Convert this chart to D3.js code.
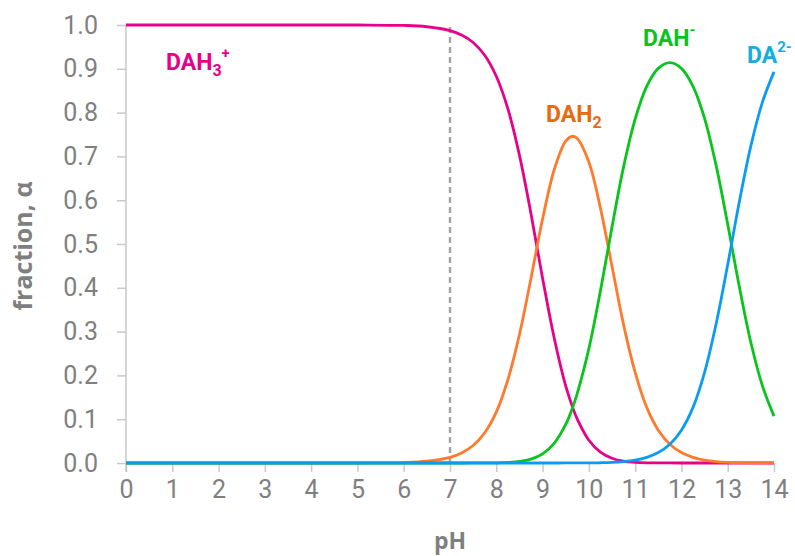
<!DOCTYPE html>
<html>
<head>
<meta charset="utf-8">
<script src="https://cdn.jsdelivr.net/npm/d3@7"></script>
<style>
  html, body { margin: 0; padding: 0; background: #fff; }
  svg { display: block; font-family: Roboto, "Liberation Sans", Arial, sans-serif; }
</style>
</head>
<body>
<svg id="chart" width="795" height="556"></svg>
<script>
// Dopamine speciation: fraction of each protonation state versus pH
const pH = [0, 1, 2, 3, 4, 5, 6, 6.5, 7, 7.25, 7.5, 7.75, 8, 8.25, 8.5, 8.75, 9, 9.25, 9.5, 9.65, 9.75,
            10, 10.25, 10.5, 10.75, 11, 11.25, 11.5, 11.75, 12, 12.25, 12.5, 12.75, 13, 13.25,
            13.5, 13.75, 14];
const DAH3 = [1, 1, 1, 1, 1, 1, 0.999, 0.996, 0.987, 0.977, 0.960, 0.931, 0.883, 0.809, 0.703, 0.569,
              0.422, 0.286, 0.176, 0.127, 0.100, 0.052, 0.025, 0.011, 0.004, 0.0016, 0.0005, 0.0002, 0.0001,
              0, 0, 0, 0, 0, 0, 0, 0, 0];
const DAH2 = [0, 0, 0, 0, 0, 0, 0.001, 0.004, 0.013, 0.023, 0.040, 0.069, 0.116, 0.190, 0.293, 0.422,
              0.557, 0.669, 0.735, 0.746, 0.741, 0.687, 0.582, 0.449, 0.316, 0.207, 0.127, 0.075, 0.043,
              0.024, 0.013, 0.0065, 0.0032, 0.0014, 0.0006, 0.0002, 0.0001, 0];
const DAH = [0, 0, 0, 0, 0, 0, 0, 0, 0, 0, 0.0001, 0.0002, 0.0004, 0.0013, 0.0035, 0.009, 0.021,
             0.045, 0.088, 0.127, 0.159, 0.261, 0.393, 0.539, 0.676, 0.785, 0.860, 0.901, 0.914, 0.901,
             0.860, 0.787, 0.679, 0.545, 0.403, 0.275, 0.176, 0.107];
const DA = [0, 0, 0, 0, 0, 0, 0, 0, 0, 0, 0, 0, 0, 0, 0, 0, 0, 0, 0.0001, 0.0001, 0.0001, 0.0002, 0.0006,
            0.0014, 0.0032, 0.0065, 0.013, 0.024, 0.043, 0.075, 0.127, 0.207, 0.318, 0.453,
            0.596, 0.724, 0.824, 0.893];
const xTicks = [0, 1, 2, 3, 4, 5, 6, 7, 8, 9, 10, 11, 12, 13, 14];
const yTicks = [0, 0.1, 0.2, 0.3, 0.4, 0.5, 0.6, 0.7, 0.8, 0.9, 1.0];
const markerPH = 7;

const series = [
  { values: DAH3, color: "#e8008a", labelColor: "#e8008a", base: "DAH", sub: "3", sup: "+", lx: 166, ly: 70 },
  { values: DAH2, color: "#ff7a2c", labelColor: "#ea6910", base: "DAH", sub: "2", sup: null, lx: 546, ly: 122 },
  { values: DAH,  color: "#08c41c", labelColor: "#08c41c", base: "DAH", sub: null, sup: "-", lx: 643, ly: 46 },
  { values: DA,   color: "#0a9cf4", labelColor: "#13ade4", base: "DA", sub: null, sup: "2-", lx: 747, ly: 63 }
];

const svg = d3.select("#chart");
const M = { left: 126, right: 774, top: 25, bottom: 463 };
const x = d3.scaleLinear().domain([0, 14]).range([M.left, M.right]);
const y = d3.scaleLinear().domain([0, 1]).range([M.bottom, M.top]);
const axisColor = "#c9c9c9";
const textColor = "#7f7f7f";
const titleFont = "'Open Sans', Roboto, Arial, sans-serif";
const labelFont = "Roboto, 'Liberation Sans', Arial, sans-serif";

// Y axis
const yAxis = svg.append("g").attr("transform", `translate(${M.left},0)`)
  .call(d3.axisLeft(y).tickValues(yTicks).tickSize(9).tickPadding(19).tickFormat(d3.format(".1f")));
// X axis (ticks only; the baseline is covered by the curves)
const xAxis = svg.append("g").attr("transform", `translate(0,${M.bottom})`)
  .call(d3.axisBottom(x).tickValues(xTicks).tickSize(9).tickPadding(8).tickFormat(d3.format("d")));
xAxis.select(".domain").remove();
yAxis.select(".domain").attr("d", `M0,${M.top}V${M.bottom + 9}`);
[xAxis, yAxis].forEach(g => {
  g.selectAll("line, path").attr("stroke", axisColor).attr("stroke-width", 1.5);
  g.selectAll("text").attr("fill", textColor).attr("font-size", 25)
    .attr("font-family", labelFont);
});

// Marker at pH 7
svg.append("line")
  .attr("x1", x(markerPH)).attr("x2", x(markerPH))
  .attr("y1", y(0)).attr("y2", y(1))
  .attr("stroke", "#a3a3a3").attr("stroke-width", 2.4).attr("stroke-dasharray", "6,4");

// Curves
const line = d3.line()
  .x((d, i) => x(pH[i]))
  .y(d => y(d))
  .curve(d3.curveCatmullRom.alpha(0.5));

series.forEach(s => {
  svg.append("path").datum(s.values)
    .attr("fill", "none").attr("stroke", s.color).attr("stroke-width", 2.8)
    .attr("stroke-linejoin", "round").attr("d", line);
});

// Species labels with sub/superscripts
series.forEach(s => {
  const t = svg.append("text").attr("x", s.lx).attr("y", s.ly)
    .attr("font-family", labelFont)
    .attr("fill", s.labelColor).attr("font-weight", "bold").attr("font-size", 23);
  t.append("tspan").text(s.base);
  if (s.sub) t.append("tspan").attr("font-size", 16).attr("dy", 6).text(s.sub);
  if (s.sup) t.append("tspan").attr("font-size", 15).attr("dy", s.sub ? -18 : -11).text(s.sup);
});

// Axis titles
svg.append("text").attr("x", x(7)).attr("y", 549).attr("text-anchor", "middle")
  .attr("font-family", titleFont)
  .attr("fill", textColor).attr("font-weight", "bold").attr("font-size", 23).text("pH");
svg.append("text").attr("transform", `translate(32,246) rotate(-90)`)
  .attr("font-family", titleFont)
  .attr("text-anchor", "middle").attr("fill", textColor).attr("font-weight", "bold")
  .attr("font-size", 25).text("fraction, α");
</script>
</body>
</html>
